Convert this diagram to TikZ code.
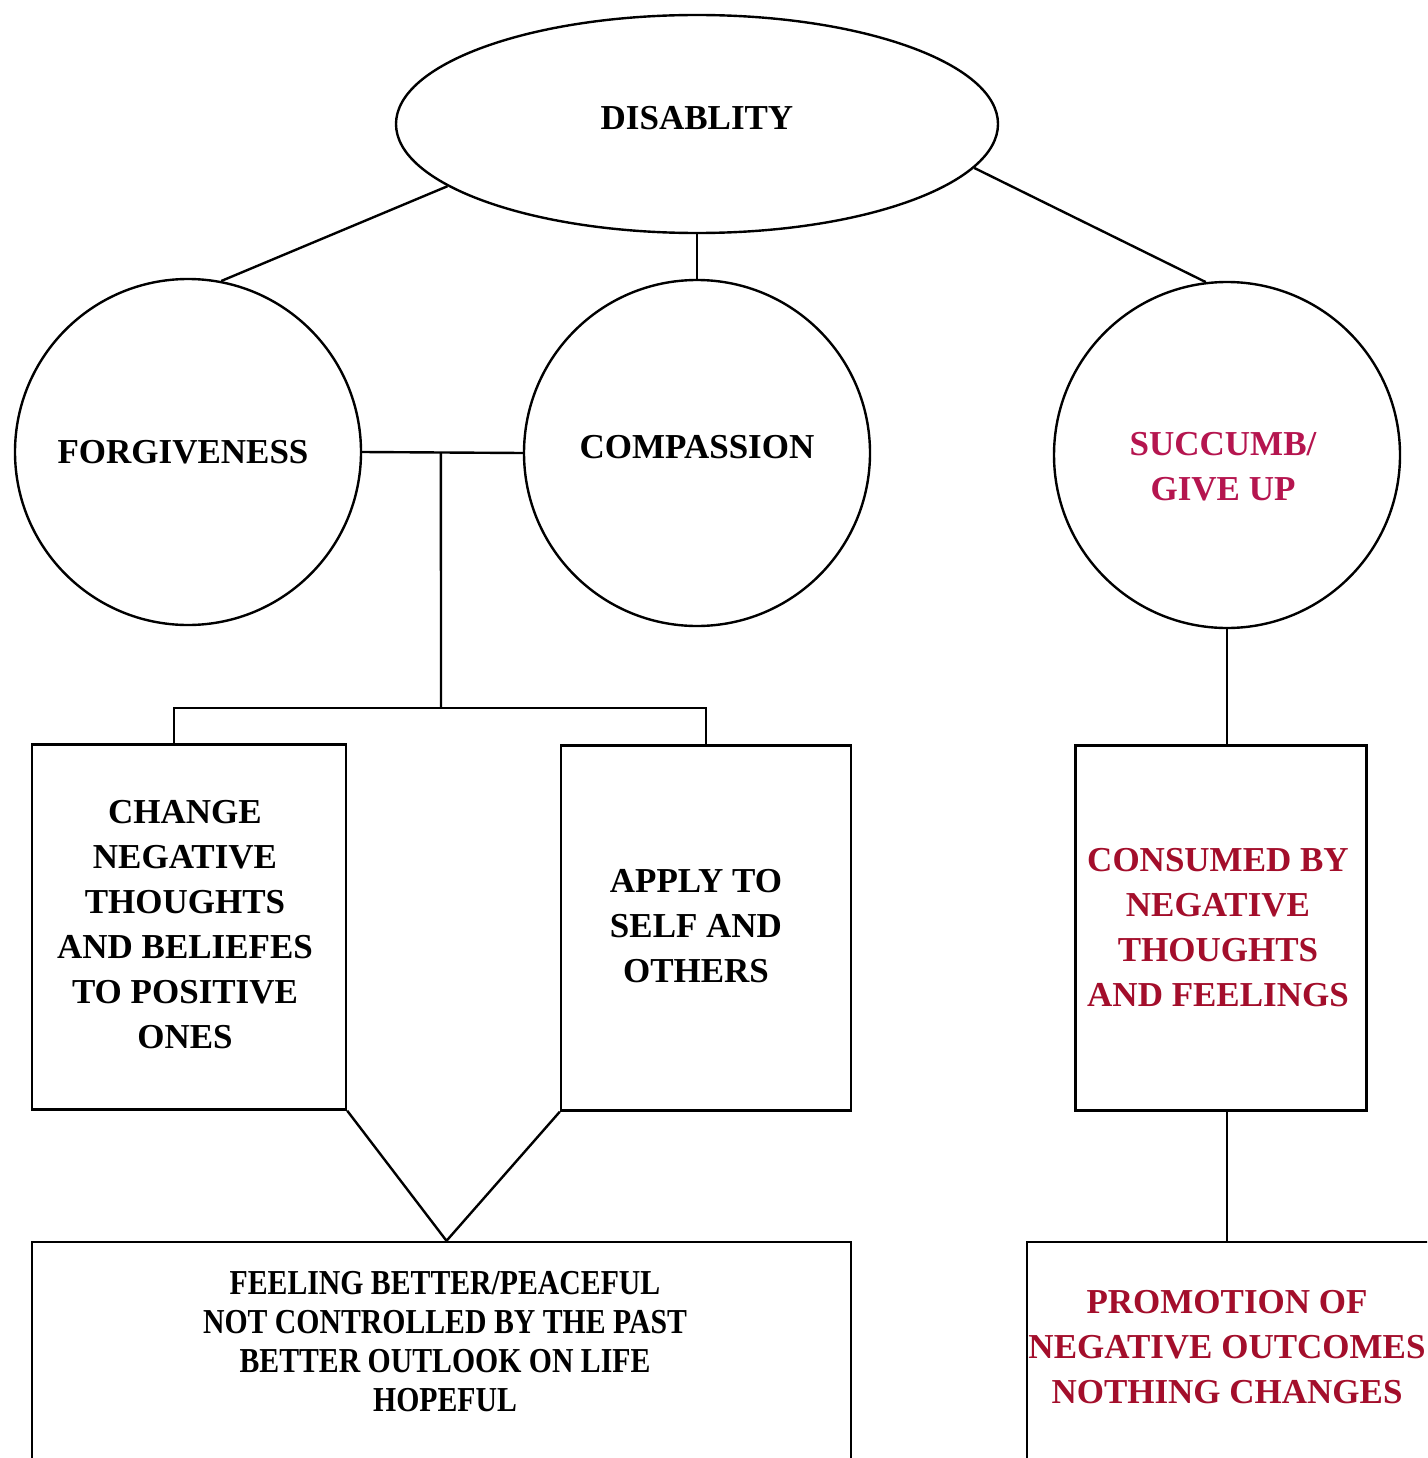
\documentclass[tikz,border=0pt]{standalone}
\usepackage{fontspec}
\setmainfont{Liberation Serif}
\newfontfamily\narrowserif{Liberation Serif}[FakeStretch=0.85]
\usetikzlibrary{shapes.geometric,calc}
\definecolor{succumbred}{RGB}{181,21,79}
\definecolor{consumedred}{RGB}{163,14,43}

\begin{document}
\begin{tikzpicture}[x=1pt,y=-1pt,line width=2.4pt,
        every node/.style={font=\fontsize{35}{45}\selectfont\bfseries,align=center},
        bubble/.style={draw,circle,minimum size=346pt,inner sep=0pt},
        card/.style={draw,rectangle,minimum height=365pt,inner sep=0pt}]
        \clip (0,0) rectangle (1427,1458);
        \node[draw,ellipse,minimum width=602pt,minimum height=218pt,inner sep=0pt,
            label={[yshift=6pt]center:DISABLITY}] (dis) at (697,124) {};
        \node[bubble,label={[xshift=-5pt]center:FORGIVENESS}] (forg) at (188,452) {};
        \node[bubble,label={[yshift=6pt]center:COMPASSION}] (comp) at (697,453) {};
        \node[bubble,label={[text=succumbred,yshift=-12pt,xshift=-4pt]center:SUCCUMB/\\GIVE UP}] (succ) at (1227,455) {};
        \node[card,minimum width=314pt,label={[xshift=-4pt,yshift=2pt]center:CHANGE\\NEGATIVE\\THOUGHTS\\AND BELIEFES\\TO POSITIVE\\ONES}] (chg) at (189,927) {};
        \node[card,minimum width=290pt,label={[xshift=-10pt,yshift=2pt]center:APPLY TO\\SELF AND\\OTHERS}] (app) at (706,928) {};
        \node[card,minimum width=291pt,label={[text=consumedred,xshift=-3pt]center:CONSUMED BY\\NEGATIVE\\THOUGHTS\\AND FEELINGS}] (con) at (1221,928) {};
        \node[draw,minimum width=819pt,minimum height=360pt] (feel) at (441.5,1422) {};
        \node[draw,minimum width=473pt,minimum height=360pt] (prom) at (1263.5,1422) {};
        \node[anchor=north,font=\narrowserif\fontsize{35}{39}\selectfont\bfseries] (feeltxt) at (445,1267)
            {FEELING BETTER/PEACEFUL\\NOT CONTROLLED BY THE PAST\\BETTER OUTLOOK ON LIFE\\HOPEFUL};
        \node[anchor=north,text=consumedred] (promtxt) at (1227,1286)
            {PROMOTION OF\\NEGATIVE OUTCOMES\\NOTHING CHANGES};
        % links from the top
        \draw (dis.194) -- (forg.79);
        \draw (dis.south) -- (comp.north);
        \draw (dis.-9) -- (succ.97);
        % forgiveness and compassion join
        \coordinate (jn) at ($(forg.east)!0.49!(comp.west)$);
        \coordinate (split) at (441,708);
        \draw (forg.east) -- (comp.west);
        \draw (jn) -- (split);
        \draw ([xshift=-15pt]chg.north) |- (split) -| (app.north);
        \draw (chg.south east) -- ([xshift=5pt]feel.north) -- (app.south west);
        % right branch
        \draw (succ.south) -- (succ.south |- con.north);
        \draw (succ.south |- con.south) -- (succ.south |- prom.north);
    \end{tikzpicture}
\end{document}
